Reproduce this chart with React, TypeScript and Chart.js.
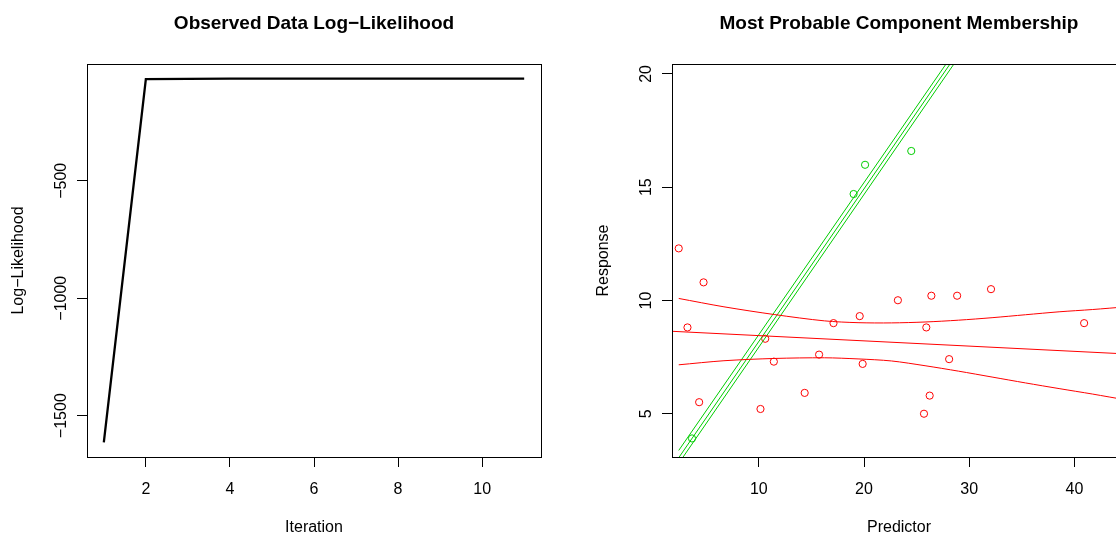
import React, { useEffect, useRef } from "react";
import { Chart, registerables } from "chart.js";

Chart.register(...registerables);

// ---------- Left panel data ----------
const iterations = [1, 2, 3, 4, 5, 6, 7, 8, 9, 10, 11];
const logLikelihood = [-1614, -67, -66, -65.5, -65.3, -65.2, -65.1, -65, -65, -65, -65];
const llXTicks = [2, 4, 6, 8, 10];
const llYTicks = [-1500, -1000, -500];

// ---------- Right panel data ----------
const redX = [2.39, 4.75, 3.22, 4.33, 10.16, 10.61, 11.43, 14.36, 15.73, 17.1, 19.59, 19.87, 23.22, 25.92, 26.4, 25.7, 26.24, 28.09, 28.85, 32.07, 40.92];
const redY = [12.3, 10.8, 8.81, 5.51, 5.21, 8.31, 7.3, 5.92, 7.61, 9.0, 9.31, 7.2, 10.01, 8.81, 10.21, 5.0, 5.8, 7.41, 10.21, 10.5, 9.0];
const greenX = [3.65, 19.01, 20.1, 24.49];
const greenY = [3.91, 14.7, 15.99, 16.6];

const greenFitX = [2.42, 30];
const greenFitY = [3.08, 21.67];
const greenUpperX = [2.39, 30];
const greenUpperY = [3.38, 21.92];
const greenLowerX = [2.39, 30];
const greenLowerY = [2.81, 21.42];

const redFitX = [1.75, 44.9];
const redFitY = [8.64, 7.64];
const redBandX = [2.39, 6.69, 11.46, 16.24, 19.43, 22.61, 25.8, 28.98, 32.17, 35.35, 38.54, 41.7, 44.9];
const redUpperY = [10.09, 9.72, 9.38, 9.1, 9.02, 9.01, 9.05, 9.13, 9.24, 9.37, 9.5, 9.6, 9.72];
const redLowerY = [7.16, 7.34, 7.44, 7.47, 7.42, 7.33, 7.12, 6.88, 6.62, 6.36, 6.11, 5.87, 5.61];

const rXTicks = [10, 20, 30, 40];
const rYTicks = [5, 10, 15, 20];

const RED = "#FF0000";
const GREEN = "#00CD00";
const FONT = '"Liberation Sans", Arial, Helvetica, sans-serif';

const pts = (xs: number[], ys: number[]) => xs.map((x, i) => ({ x, y: ys[i] }));
const fmt = (v: number) => (v < 0 ? "\u2212" + Math.abs(v) : String(v));

function makeDecor(title: string, xTitle: string, yTitle: string) {
  return {
    id: "rDecor",
    afterDraw(chart: any) {
      const { ctx, chartArea: a, scales } = chart;
      const xs = scales.x;
      const ys = scales.y;
      ctx.save();
      ctx.strokeStyle = "#000";
      ctx.lineWidth = 1;
      ctx.strokeRect(Math.round(a.left) + 0.5, Math.round(a.top) + 0.5, Math.round(a.right - a.left), Math.round(a.bottom - a.top));
      ctx.fillStyle = "#000";
      const cx = (a.left + a.right) / 2;
      const cy = (a.top + a.bottom) / 2;
      ctx.textAlign = "center";
      ctx.textBaseline = "alphabetic";
      ctx.font = "bold 19px " + FONT;
      ctx.fillText(title, cx, 29);
      ctx.font = "16px " + FONT;
      ctx.fillText(xTitle, cx, a.bottom + 75);
      xs.ticks.forEach((t: any) => {
        ctx.fillText(fmt(t.value), xs.getPixelForValue(t.value), a.bottom + 37);
      });
      ys.ticks.forEach((t: any) => {
        ctx.save();
        ctx.translate(a.left - 21, ys.getPixelForValue(t.value));
        ctx.rotate(-Math.PI / 2);
        ctx.fillText(fmt(t.value), 0, 0);
        ctx.restore();
      });
      ctx.save();
      ctx.translate(a.left - 64, cy);
      ctx.rotate(-Math.PI / 2);
      ctx.fillText(yTitle, 0, 0);
      ctx.restore();
      ctx.restore();
    },
  };
}

function axis(min: number, max: number, tickVals: number[], isX: boolean) {
  return {
    type: "linear" as const,
    min,
    max,
    afterBuildTicks: (s: any) => {
      s.ticks = tickVals.map((v) => ({ value: v }));
    },
    afterFit: (s: any) => {
      if (isX) s.height = 78;
      else s.width = 87;
    },
    ticks: { display: false },
    grid: { display: true, drawOnChartArea: false, drawTicks: true, tickLength: 10, color: "#000", lineWidth: 1 },
    border: { display: false },
  };
}

const baseOptions = (xScale: any, yScale: any) => ({
  responsive: false,
  animation: false as const,
  events: [],
  layout: { padding: { top: 64, right: 44, left: 0, bottom: 0 } },
  plugins: { legend: { display: false }, tooltip: { enabled: false }, title: { display: false } },
  scales: { x: xScale, y: yScale },
});

function LeftPanel() {
  const ref = useRef<HTMLCanvasElement>(null);
  useEffect(() => {
    if (!ref.current) return;
    const chart = new Chart(ref.current, {
      type: "scatter",
      data: {
        datasets: [
          {
            data: pts(iterations, logLikelihood),
            showLine: true,
            borderColor: "#000",
            borderWidth: 2.3,
            pointRadius: 0,
            tension: 0,
          } as any,
        ],
      },
      options: baseOptions(axis(0.6, 11.4, llXTicks, true), axis(-1676, -3, llYTicks, false)) as any,
      plugins: [makeDecor("Observed Data Log\u2212Likelihood", "Iteration", "Log\u2212Likelihood")],
    });
    return () => chart.destroy();
  }, []);
  return <canvas ref={ref} width={585} height={535} style={{ width: 585, height: 535, display: "block" }} />;
}

function RightPanel() {
  const ref = useRef<HTMLCanvasElement>(null);
  useEffect(() => {
    if (!ref.current) return;
    const line = (xs: number[], ys: number[], color: string, tension = 0) => ({
      data: pts(xs, ys),
      showLine: true,
      borderColor: color,
      borderWidth: 1,
      pointRadius: 0,
      tension,
    });
    const chart = new Chart(ref.current, {
      type: "scatter",
      data: {
        datasets: [
          line(redFitX, redFitY, RED),
          line(redBandX, redUpperY, RED, 0.3),
          line(redBandX, redLowerY, RED, 0.3),
          line(greenFitX, greenFitY, GREEN),
          line(greenUpperX, greenUpperY, GREEN),
          line(greenLowerX, greenLowerY, GREEN),
          {
            data: pts(redX, redY),
            showLine: false,
            pointStyle: "circle",
            pointRadius: 3.6,
            pointBorderWidth: 1,
            pointBorderColor: RED,
            pointBackgroundColor: "rgba(0,0,0,0)",
          },
          {
            data: pts(greenX, greenY),
            showLine: false,
            pointStyle: "circle",
            pointRadius: 3.6,
            pointBorderWidth: 1,
            pointBorderColor: GREEN,
            pointBackgroundColor: "rgba(0,0,0,0)",
          },
        ] as any,
      },
      options: baseOptions(axis(1.75, 44.9, rXTicks, true), axis(3.09, 20.44, rYTicks, false)) as any,
      plugins: [makeDecor("Most Probable Component Membership", "Predictor", "Response")],
    });
    return () => chart.destroy();
  }, []);
  return <canvas ref={ref} width={585} height={535} style={{ width: 585, height: 535, display: "block" }} />;
}

export default function App() {
  return (
    <div style={{ position: "fixed", left: 0, top: 0, width: 1116, height: 535, overflow: "hidden", background: "#fff" }}>
      <div style={{ position: "absolute", left: 0, top: 0, width: 585, height: 535 }}>
        <LeftPanel />
      </div>
      <div style={{ position: "absolute", left: 585, top: 0, width: 585, height: 535 }}>
        <RightPanel />
      </div>
    </div>
  );
}
